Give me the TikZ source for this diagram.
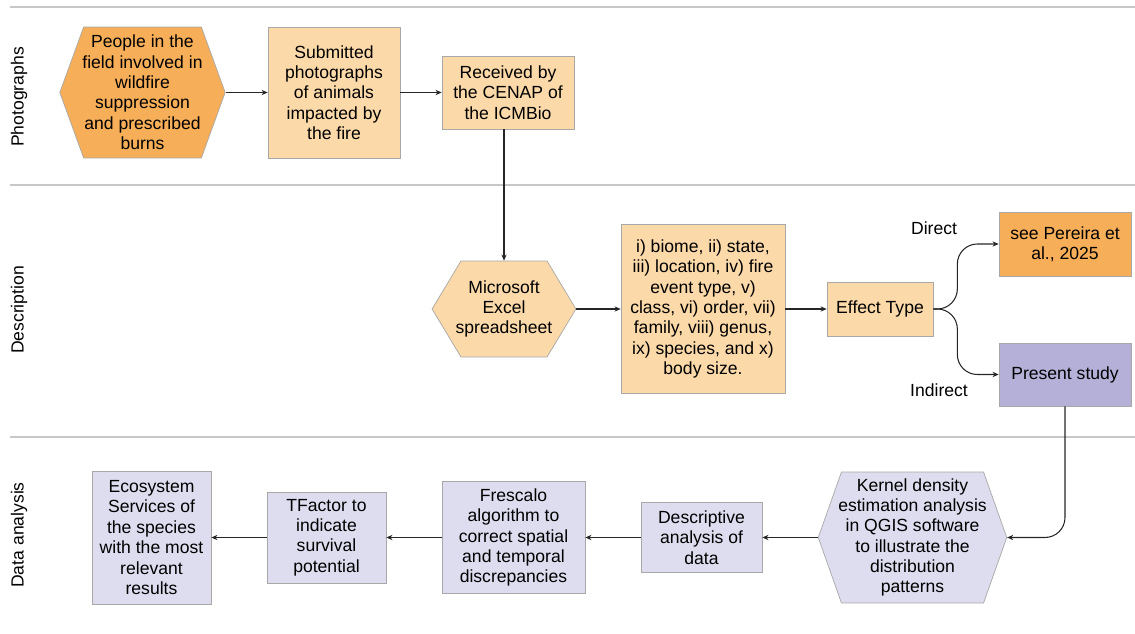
\documentclass[tikz,border=0pt]{standalone}
\usepackage{fontspec}
\setmainfont{Liberation Sans}
\usetikzlibrary{shapes.symbols,arrows.meta}

\definecolor{darkorange}{HTML}{F7AE58}
\definecolor{peach}{HTML}{FBD9A9}
\definecolor{lavdark}{HTML}{B4B0D8}
\definecolor{lavlight}{HTML}{DDDDEF}
\definecolor{edgegray}{HTML}{A8A8A8}

\begin{document}
\begin{tikzpicture}[x=0.02cm, y=-0.02cm,
	box/.style={draw=edgegray, line width=0.4pt, align=center, inner sep=1pt, font=\fontsize{10}{11.6}\selectfont},
	hexa/.style={box, signal, signal to=west and east},
	flow/.style={-{Stealth[length=3.5pt,width=3pt]}, line width=0.6pt, black!85},
	lane/.style={draw=black!22, line width=0.8pt},
	lanelabel/.style={rotate=90, font=\fontsize{10}{12}\selectfont}]
	
	\useasboundingbox (0,0) rectangle (1135,634);
	
	%lanes
	\draw[lane] (10,7) -- (1135,7);
	\draw[lane] (10,185) -- (1135,185);
	\draw[lane] (10,437) -- (1135,437);
	\node[lanelabel] (lphoto) at (19,97){Photographs};
	\node[lanelabel] (ldesc) at (19,310){Description};
	\node[lanelabel] (ldata) at (19,535){Data analysis};
	
	%photographs
	\node[hexa, fill=darkorange, signal pointer angle=140, inner xsep=-0.7pt, minimum height=2.62cm] (people) at (142.5,92.5){People in the\\field involved in\\wildfire\\suppression\\and prescribed\\burns};
	\node[box, fill=peach, minimum width=2.64cm, minimum height=2.62cm] (submitted) at (334,92.5){Submitted\\photographs\\of animals\\impacted by\\the fire};
	\node[box, fill=peach, minimum width=2.64cm, minimum height=1.46cm] (received) at (508,92.5){Received by\\the CENAP of\\the ICMBio};
	
	%description
	\node[hexa, fill=peach, signal pointer angle=118, inner xsep=-3pt, minimum height=1.92cm] (excel) at (504,309){Microsoft\\Excel\\spreadsheet};
	\node[box, fill=peach, minimum width=3.28cm, minimum height=3.38cm] (attrs) at (703,309){i) biome, ii) state,\\iii) location, iv) fire\\event type, v)\\class, vi) order, vii)\\family, viii) genus,\\ix) species, and x)\\body size.};
	\node[box, fill=peach, minimum width=2.12cm, minimum height=1.08cm] (effect) at (880,309){Effect Type};
	\node[box, fill=darkorange, minimum width=2.64cm, minimum height=1.28cm] (pereira) at (1065,244){see Pereira et\\al., 2025};
	\node[box, fill=lavdark, minimum width=2.64cm, minimum height=1.26cm] (present) at (1065,374.5){Present study};
	\node[font=\fontsize{10}{12}\selectfont] (direct) at (934,228){Direct};
	\node[font=\fontsize{10}{12}\selectfont] (indirect) at (939,390){Indirect};
	
	%data analysis
	\node[hexa, fill=lavlight, signal pointer angle=141, inner xsep=-1.8pt, minimum height=2.62cm] (kernel) at (912.5,537.5){Kernel density\\estimation analysis\\in QGIS software\\to illustrate the\\distribution\\patterns};
	\node[box, fill=lavlight, minimum width=2.42cm, minimum height=1.40cm] (descr) at (701.5,537.5){Descriptive\\analysis of\\data};
	\node[box, fill=lavlight, minimum width=2.86cm, minimum height=2.24cm] (frescalo) at (513.5,537.5){Frescalo\\algorithm to\\correct spatial\\and temporal\\discrepancies};
	\node[box, fill=lavlight, minimum width=2.38cm, minimum height=1.82cm] (tfactor) at (326.5,537.5){TFactor to\\indicate\\survival\\potential};
	\node[box, fill=lavlight, minimum width=2.38cm, minimum height=2.66cm] (ecosys) at (151.5,537.5){Ecosystem\\Services of\\the species\\with the most\\relevant\\results};
	
	\coordinate (fork) at ([xshift=0.48cm]effect.east);
	
	\draw[flow] (people.east) -- (submitted.west);
	\draw[flow] (submitted.east) -- (received.west);
	\draw[flow] (excel.north |- received.south) -- (excel.north);
	\draw[flow] (excel.east) -- (attrs.west);
	\draw[flow] (attrs.east) -- (effect.west);
	\draw[flow, rounded corners=0.4cm] (effect.east) -- (fork) |- (pereira.west);
	\draw[flow, rounded corners=0.4cm] (effect.east) -- (fork) |- (present.west);
	\draw[flow, rounded corners=0.4cm] (present.south) |- (kernel.east);
	\draw[flow] (kernel.west) -- (descr.east);
	\draw[flow] (descr.west) -- (frescalo.east);
	\draw[flow] (frescalo.west) -- (tfactor.east);
	\draw[flow] (tfactor.west) -- (ecosys.east);
	
\end{tikzpicture}
\end{document}
